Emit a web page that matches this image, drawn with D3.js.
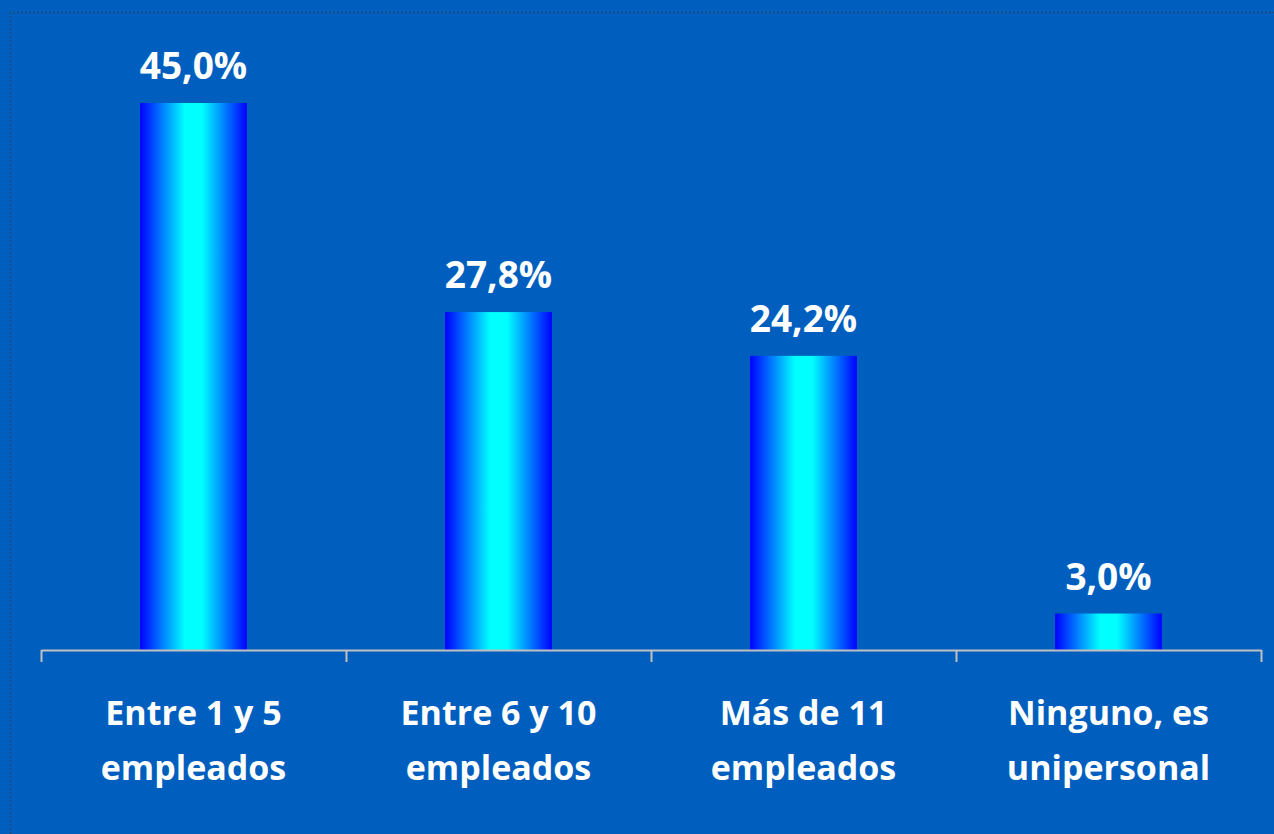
<!DOCTYPE html>
<html>
<head>
<meta charset="utf-8">
<script src="https://cdn.jsdelivr.net/npm/d3@7"></script>
<style>
  html, body { margin: 0; padding: 0; background: #005fbe; }
  svg { display: block; }
</style>
</head>
<body>
<div id="chart"></div>
<script>
// chart data
const categories = [
  ['Entre 1 y 5', 'empleados'],
  ['Entre 6 y 10', 'empleados'],
  ['Más de 11', 'empleados'],
  ['Ninguno, es', 'unipersonal'],
];
const values = [45.0, 27.8, 24.2, 3.0];
const valueLabels = ['45,0%', '27,8%', '24,2%', '3,0%'];

const width = 1274;
const height = 834;
const margin = { top: 103, right: 13, bottom: 184, left: 41 };
const innerW = width - margin.left - margin.right;
const innerH = height - margin.top - margin.bottom;

const svg = d3.select('#chart').append('svg')
  .attr('width', width)
  .attr('height', height);

svg.append('rect')
  .attr('width', width)
  .attr('height', height)
  .attr('fill', '#005fbe');

// dotted frame (runs off the right and bottom edges)
svg.append('path')
  .attr('d', `M10.5,${height} V12.5 H${width}`)
  .attr('fill', 'none')
  .attr('stroke', '#1f4a7a')
  .attr('stroke-width', 1.5)
  .attr('stroke-dasharray', '2,2');

// bar gradient: blue edges, cyan centre
const defs = svg.append('defs');
const grad = defs.append('linearGradient')
  .attr('id', 'barGrad')
  .attr('x1', '0%').attr('x2', '100%')
  .attr('y1', '0%').attr('y2', '0%');
grad.append('stop').attr('offset', '0%').attr('stop-color', '#0000ff');
grad.append('stop').attr('offset', '42%').attr('stop-color', '#00ffff');
grad.append('stop').attr('offset', '58%').attr('stop-color', '#00ffff');
grad.append('stop').attr('offset', '100%').attr('stop-color', '#0000ff');

const g = svg.append('g')
  .attr('transform', `translate(${margin.left},${margin.top})`);

const x = d3.scaleBand()
  .domain(d3.range(categories.length))
  .range([0, innerW])
  .paddingInner(0.65)
  .paddingOuter(0.325);

const y = d3.scaleLinear()
  .domain([0, 45])
  .range([innerH, 0]);

g.selectAll('.bar')
  .data(values)
  .enter()
  .append('rect')
  .attr('class', 'bar')
  .attr('x', (d, i) => x(i))
  .attr('y', (d) => y(d))
  .attr('width', x.bandwidth())
  .attr('height', (d) => innerH - y(d))
  .attr('fill', 'url(#barGrad)');

g.selectAll('.value-label')
  .data(values)
  .enter()
  .append('text')
  .attr('class', 'value-label')
  .attr('x', (d, i) => x(i) + x.bandwidth() / 2)
  .attr('y', (d) => y(d) - 24)
  .attr('text-anchor', 'middle')
  .attr('fill', '#ffffff')
  .style('font-family', '"Open Sans", sans-serif')
  .style('font-weight', 'bold')
  .style('font-size', '37px')
  .text((d, i) => valueLabels[i]);

// x axis with category-boundary ticks
const step = innerW / categories.length;
const xEdge = d3.scaleLinear().domain([0, categories.length]).range([0, innerW]);
const axis = g.append('g')
  .attr('transform', `translate(0,${innerH})`)
  .call(d3.axisBottom(xEdge)
    .tickValues(d3.range(categories.length + 1))
    .tickSize(12)
    .tickSizeOuter(0)
    .tickFormat(''));
axis.select('.domain').attr('stroke', '#c0c0c0').attr('stroke-width', 2);
axis.selectAll('.tick line').attr('stroke', '#c0c0c0').attr('stroke-width', 2);

const catText = g.selectAll('.cat-label')
  .data(categories)
  .enter()
  .append('text')
  .attr('class', 'cat-label')
  .attr('x', (d, i) => xEdge(i) + step / 2)
  .attr('y', innerH + 75)
  .attr('text-anchor', 'middle')
  .attr('fill', '#ffffff')
  .style('font-family', '"Open Sans", sans-serif')
  .style('font-weight', 'bold')
  .style('font-size', '34px');

catText.selectAll('tspan')
  .data((d) => d)
  .enter()
  .append('tspan')
  .attr('x', function () { return d3.select(this.parentNode).attr('x'); })
  .attr('dy', (d, i) => (i === 0 ? 0 : 55))
  .text((d) => d);
</script>
</body>
</html>
